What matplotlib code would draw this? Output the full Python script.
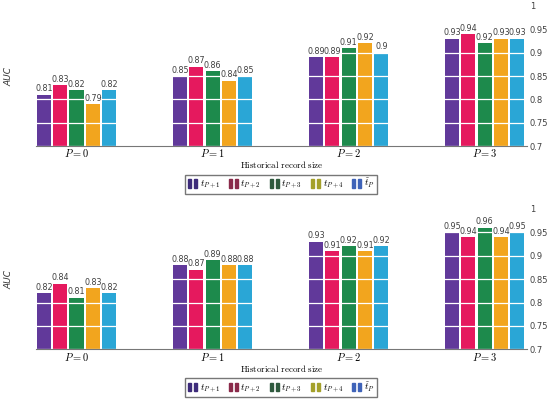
import matplotlib
matplotlib.use("Agg")
import matplotlib.pyplot as plt
import numpy as np
from matplotlib.patches import Patch
from matplotlib.legend_handler import HandlerTuple

plt.rcParams['mathtext.fontset'] = 'cm'
plt.rcParams['font.family'] = 'DejaVu Sans'

# data
groups = ['$P=0$', '$P=1$', '$P=2$', '$P=3$']
series = [r'$t_{P+1}$', r'$t_{P+2}$', r'$t_{P+3}$', r'$t_{P+4}$', r'$\tilde{t}_P$']
auc_top = [
    [0.81, 0.85, 0.89, 0.93],
    [0.83, 0.87, 0.89, 0.94],
    [0.82, 0.86, 0.91, 0.92],
    [0.79, 0.84, 0.92, 0.93],
    [0.82, 0.85, 0.90, 0.93],
]
auc_bottom = [
    [0.82, 0.88, 0.93, 0.95],
    [0.84, 0.87, 0.91, 0.94],
    [0.81, 0.89, 0.92, 0.96],
    [0.83, 0.88, 0.91, 0.94],
    [0.82, 0.88, 0.92, 0.95],
]
yticks = [0.7, 0.75, 0.8, 0.85, 0.9, 0.95, 1.0]
ytick_labels = ['0.7', '0.75', '0.8', '0.85', '0.9', '0.95', '1']

colors = ['#61399a', '#e5195e', '#1d8a4c', '#f2a51e', '#2aa6d6']
dark = ['#3d2b7a', '#8a2a4a', '#2f5a3e', '#a4a02a', '#3f63b8']

fig = plt.figure(figsize=(5.5, 3.99), dpi=100)
ax1 = fig.add_axes([0.065, 0.634, 0.893, 0.351])
ax2 = fig.add_axes([0.065, 0.1245, 0.893, 0.352])

x = np.arange(len(groups))
w = 0.12

def draw(ax, data):
    for i, vals in enumerate(data):
        pos = x + (i - 2) * w
        bars = ax.bar(pos, vals, width=w - 0.016, color=colors[i], zorder=1)
        ax.bar_label(bars, labels=['%g' % v for v in vals], padding=1,
                     fontsize=5.8, color='#404040')
    ax.set_ylim(0.7, 1.0)
    ax.set_xlim(-0.3, 3.31)
    ax.set_yticks(yticks)
    ax.set_yticklabels(ytick_labels)
    ax.yaxis.tick_right()
    ax.tick_params(axis='y', length=0, labelsize=6, pad=2, colors='#404040')
    ax.tick_params(axis='x', length=0, labelsize=7.5, pad=1)
    ax.set_xticks(x)
    ax.set_xticklabels(groups)
    for s in ['top', 'left', 'right']:
        ax.spines[s].set_visible(False)
    ax.spines['bottom'].set_color('#777777')
    ax.grid(axis='y', color='white', linewidth=0.9, zorder=3)
    ax.set_axisbelow(False)
    ax.set_ylabel('AUC', fontsize=6.5, fontstyle='italic', color='#333333')
    ax.yaxis.set_label_position('left')
    ax.yaxis.set_label_coords(-0.045, 0.5)
    ax.set_xlabel(r'$\mathrm{Historical\ record\ size}$', fontsize=6.5, labelpad=0)
    handles = [(Patch(color=dark[i]), Patch(color=dark[i])) for i in range(5)]
    ax.legend(handles, series, ncol=5, loc='center', bbox_to_anchor=(0.5, -0.272),
              handler_map={tuple: HandlerTuple(ndivide=None, pad=0.3)},
              handlelength=0.9, handleheight=0.9, handletextpad=0.3,
              columnspacing=0.9, fontsize=7, frameon=True, fancybox=False,
              edgecolor='#555555', borderpad=0.25, borderaxespad=0)

draw(ax1, auc_top)
draw(ax2, auc_bottom)

plt.savefig('out.png', dpi=100)
